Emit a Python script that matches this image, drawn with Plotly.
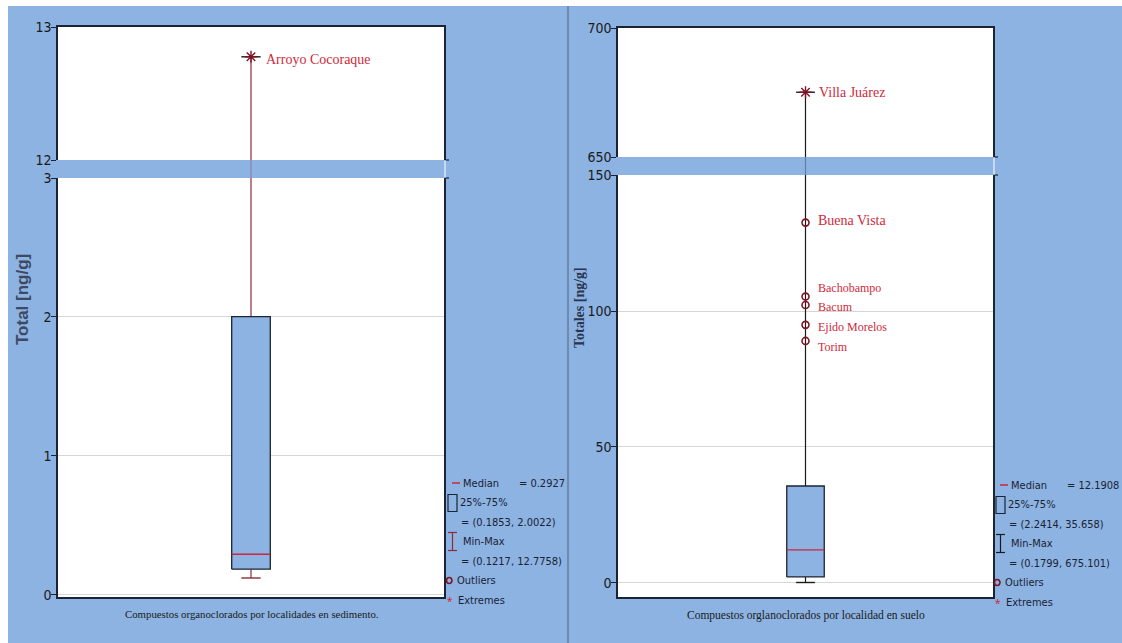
import plotly.graph_objects as go

# ---- summary statistics: organochlorine totals in sediment ------------
SED_MEDIAN = 0.2927
SED_QUARTILES = [0.1853, 2.0022]
SED_MINMAX = [0.1217, 12.7758]
SED_EXTREME_SITES = ["Arroyo Cocoraque"]
SED_EXTREME_VALUES = [12.7758]

# ---- summary statistics: organochlorine totals in soil ----------------
SOIL_MEDIAN = 12.1908
SOIL_QUARTILES = [2.2414, 35.658]
SOIL_MINMAX = [0.1799, 675.101]
SOIL_OUTLIER_SITES = ["Buena Vista", "Bachobampo", "Bacum", "Ejido Morelos", "Torim"]
SOIL_OUTLIER_VALUES = [132.5, 105.3, 102.2, 94.9, 89.0]
SOIL_EXTREME_SITES = ["Villa Juárez"]
SOIL_EXTREME_VALUES = [675.101]

# ---- tick marks for the broken y axes ---------------------------------
SED_TICKS_LOW = [0, 1, 2, 3]
SED_TICKS_HIGH = [12, 13]
SOIL_TICKS_LOW = [0, 50, 100, 150]
SOIL_TICKS_HIGH = [650, 700]

# ---- page geometry / style --------------------------------------------
W, H = 1122, 643
BG = "#8DB3E2"
BOX_FILL = "#8DB3E2"
FRAME = "#1c2433"
GRID = "#d6d6d6"
MEDIAN_RED = "#c8283c"
WHISKER_RED = "#8e2a36"
MARK_RED = "#7d1424"
LABEL_RED = "#cf2a3a"
DARK = "#1a1a1a"
SERIF = "Liberation Serif, Times New Roman, serif"
NARROW = "Liberation Sans Narrow, Arial Narrow, DejaVu Sans Condensed, Liberation Sans, sans-serif"
SANS = "Liberation Sans, Arial, sans-serif"

BOX_HALF = 0.1     # half box width in x-axis units (x range is -1..1)
CAP_HALF = 0.05    # half whisker-cap width


def fx(px):
    return px / W


def fy(py):
    return 1 - py / H


fig = go.Figure()


def add_boxplot(xa, ya_low, ya_high, quart, med, minmax, whisker_col):
    q1, q3 = quart
    lo, hi = minmax
    for ya in (ya_low, ya_high):
        # upper whisker runs through both halves of the broken axis
        fig.add_trace(go.Scatter(x=[0, 0], y=[q3, hi], mode="lines",
                                 line=dict(color=whisker_col, width=1.2),
                                 xaxis=xa[ya], yaxis=ya, hoverinfo="skip"))
    # lower whisker + cap
    fig.add_trace(go.Scatter(x=[0, 0], y=[lo, q1], mode="lines",
                             line=dict(color=whisker_col, width=1.2),
                             xaxis=xa[ya_low], yaxis=ya_low, hoverinfo="skip"))
    fig.add_trace(go.Scatter(x=[-CAP_HALF, CAP_HALF], y=[lo, lo], mode="lines",
                             line=dict(color=whisker_col, width=1.4),
                             xaxis=xa[ya_low], yaxis=ya_low, hoverinfo="skip"))
    # box 25%-75%
    fig.add_trace(go.Scatter(x=[-BOX_HALF, BOX_HALF, BOX_HALF, -BOX_HALF, -BOX_HALF],
                             y=[q1, q1, q3, q3, q1], mode="lines", fill="toself",
                             fillcolor=BOX_FILL, line=dict(color=FRAME, width=1.3),
                             xaxis=xa[ya_low], yaxis=ya_low, hoverinfo="skip"))
    # median
    fig.add_trace(go.Scatter(x=[-BOX_HALF, BOX_HALF], y=[med, med], mode="lines",
                             line=dict(color=MEDIAN_RED, width=1.3),
                             xaxis=xa[ya_low], yaxis=ya_low, hoverinfo="skip"))
    # top cap (max)
    fig.add_trace(go.Scatter(x=[-CAP_HALF, CAP_HALF], y=[hi, hi], mode="lines",
                             line=dict(color=DARK, width=1.4),
                             xaxis=xa[ya_high], yaxis=ya_high, hoverinfo="skip"))


xmap = {"y": "x", "y3": "x3", "y2": "x2", "y4": "x4"}

add_boxplot(xmap, "y", "y3", SED_QUARTILES, SED_MEDIAN, SED_MINMAX, WHISKER_RED)
add_boxplot(xmap, "y2", "y4", SOIL_QUARTILES, SOIL_MEDIAN, SOIL_MINMAX, DARK)

# extremes (asterisks)
fig.add_trace(go.Scatter(x=[0] * len(SED_EXTREME_VALUES), y=SED_EXTREME_VALUES,
                         mode="markers", xaxis="x3", yaxis="y3", hoverinfo="skip",
                         marker=dict(symbol="asterisk-open", size=10, color=MARK_RED,
                                     line=dict(width=1.4, color=MARK_RED))))
fig.add_trace(go.Scatter(x=[0] * len(SOIL_EXTREME_VALUES), y=SOIL_EXTREME_VALUES,
                         mode="markers", xaxis="x4", yaxis="y4", hoverinfo="skip",
                         marker=dict(symbol="asterisk-open", size=10, color=MARK_RED,
                                     line=dict(width=1.4, color=MARK_RED))))
# outliers (open circles)
fig.add_trace(go.Scatter(x=[0] * len(SOIL_OUTLIER_VALUES), y=SOIL_OUTLIER_VALUES,
                         mode="markers", xaxis="x2", yaxis="y2", hoverinfo="skip",
                         marker=dict(symbol="circle-open", size=7, color=MARK_RED,
                                     line=dict(width=1.6, color=MARK_RED))))

annotations = []

# site names next to the flagged points
for name, val in zip(SED_EXTREME_SITES, SED_EXTREME_VALUES):
    annotations.append(dict(x=0, y=val, xref="x3", yref="y3", text=name,
                            showarrow=False, xanchor="left", yanchor="middle",
                            xshift=13, yshift=-3,
                            font=dict(family=SERIF, size=14, color=LABEL_RED)))
for name, val in zip(SOIL_EXTREME_SITES, SOIL_EXTREME_VALUES):
    annotations.append(dict(x=0, y=val, xref="x4", yref="y4", text=name,
                            showarrow=False, xanchor="left", yanchor="middle",
                            xshift=11, yshift=0,
                            font=dict(family=SERIF, size=14, color=LABEL_RED)))
OUTLIER_LABEL_SHIFT = [2, 9, -2, -2, -6]
OUTLIER_LABEL_SIZE = [14, 12, 12, 12, 12]
for name, val, dy, fs in zip(SOIL_OUTLIER_SITES, SOIL_OUTLIER_VALUES,
                             OUTLIER_LABEL_SHIFT, OUTLIER_LABEL_SIZE):
    annotations.append(dict(x=0, y=val, xref="x2", yref="y2", text=name,
                            showarrow=False, xanchor="left", yanchor="middle",
                            xshift=10, yshift=dy,
                            font=dict(family=SERIF, size=fs, color=LABEL_RED)))

# axis titles and captions
annotations += [
    dict(x=fx(22), y=fy(300), xref="paper", yref="paper", text="<b>Total [ng/g]</b>",
         textangle=-90, showarrow=False, xanchor="center", yanchor="middle",
         font=dict(family=SANS, size=17, color="#3e4a64")),
    dict(x=fx(579), y=fy(308), xref="paper", yref="paper", text="<b>Totales [ng/g]</b>",
         textangle=-90, showarrow=False, xanchor="center", yanchor="middle",
         font=dict(family=SERIF, size=14, color="#2b3550")),
    dict(x=fx(251), y=fy(614), xref="paper", yref="paper",
         text="Compuestos organoclorados por localidades en sedimento.",
         showarrow=False, xanchor="center", yanchor="middle",
         font=dict(family=SERIF, size=10.8, color=DARK)),
    dict(x=fx(806), y=fy(615), xref="paper", yref="paper",
         text="Compuestos orglanoclorados por localidad en suelo",
         showarrow=False, xanchor="center", yanchor="middle",
         font=dict(family=SERIF, size=11.5, color=DARK)),
]

shapes = [
    # white strips at page edges
    dict(type="rect", xref="paper", yref="paper", x0=0, x1=1, y0=fy(6), y1=1,
         fillcolor="white", line=dict(width=0), layer="below"),
    dict(type="rect", xref="paper", yref="paper", x0=0, x1=fx(8), y0=0, y1=1,
         fillcolor="white", line=dict(width=0), layer="below"),
    # divider between the two charts
    dict(type="line", xref="paper", yref="paper", x0=fx(568), x1=fx(568),
         y0=0, y1=fy(6), line=dict(color="#5b6f8c", width=1.2)),
    # whisker seen through the axis break
    dict(type="line", xref="x", yref="paper", x0=0, x1=0, y0=fy(178), y1=fy(160),
         line=dict(color="rgba(142,42,54,0.35)", width=1.2)),
    dict(type="line", xref="x2", yref="paper", x0=0, x1=0, y0=fy(175), y1=fy(157),
         line=dict(color="rgba(0,0,0,0.3)", width=1.2)),
]
# break marks on the right frames
for xr, ys in ((444, (160, 178)), (993, (157, 175))):
    for yy in ys:
        shapes.append(dict(type="line", xref="paper", yref="paper",
                           x0=fx(xr), x1=fx(xr + 5), y0=fy(yy), y1=fy(yy),
                           line=dict(color=FRAME, width=1.2)))
    shapes.append(dict(type="line", xref="paper", yref="paper",
                       x0=fx(xr + 1), x1=fx(xr + 1), y0=fy(ys[1]), y1=fy(ys[0]),
                       line=dict(color="white", width=1)))


def legend(x0, y0, med, quart, minmax, whisker_col):
    step = 19.5
    rows = [y0 + i * step for i in range(7)]
    txt = dict(family=NARROW, size=11, color="#1b2233")

    def label(x, y, s):
        annotations.append(dict(x=fx(x), y=fy(y), xref="paper", yref="paper",
                                text=s, showarrow=False, xanchor="left",
                                yanchor="middle", font=txt, borderpad=0))

    # median
    shapes.append(dict(type="line", xref="paper", yref="paper",
                       x0=fx(x0 + 6), x1=fx(x0 + 14), y0=fy(rows[0]), y1=fy(rows[0]),
                       line=dict(color=MEDIAN_RED, width=1.5)))
    label(x0 + 16, rows[0], "Median")
    label(x0 + 72, rows[0], f"= {med}")
    # box
    shapes.append(dict(type="rect", xref="paper", yref="paper",
                       x0=fx(x0 + 2), x1=fx(x0 + 11),
                       y0=fy(rows[1] + 9), y1=fy(rows[1] - 8),
                       line=dict(color=FRAME, width=1.2)))
    label(x0 + 13, rows[1], "25%-75%")
    label(x0 + 14, rows[2], f"= ({quart[0]}, {quart[1]})")
    # min-max
    yc = rows[3]
    for a, b, c, d in ((x0 + 2, x0 + 11, yc - 9, yc - 9),
                       (x0 + 2, x0 + 11, yc + 9, yc + 9),
                       (x0 + 6.5, x0 + 6.5, yc - 9, yc + 9)):
        shapes.append(dict(type="line", xref="paper", yref="paper",
                           x0=fx(a), x1=fx(b), y0=fy(c), y1=fy(d),
                           line=dict(color=whisker_col, width=1.2)))
    label(x0 + 16, rows[3], "Min-Max")
    label(x0 + 14, rows[4], f"= ({minmax[0]}, {minmax[1]})")
    # outliers / extremes
    shapes.append(dict(type="circle", xref="paper", yref="paper",
                       x0=fx(x0 + 0.5), x1=fx(x0 + 6), y0=fy(rows[5] + 3),
                       y1=fy(rows[5] - 3), line=dict(color=MARK_RED, width=1.6)))
    label(x0 + 10, rows[5], "Outliers")
    annotations.append(dict(x=fx(x0 + 3.5), y=fy(rows[6] + 2), xref="paper",
                            yref="paper", text="*", showarrow=False,
                            xanchor="center", yanchor="middle", borderpad=0,
                            font=dict(family=SANS, size=14, color=LABEL_RED)))
    label(x0 + 11, rows[6], "Extremes")


legend(446, 483, SED_MEDIAN, SED_QUARTILES, SED_MINMAX, WHISKER_RED)
legend(994, 485, SOIL_MEDIAN, SOIL_QUARTILES, SOIL_MINMAX, DARK)

tickfont = dict(family=NARROW, size=14, color=DARK)
xcommon = dict(range=[-1, 1], showticklabels=False, ticks="", showgrid=False,
               zeroline=False, showline=True, linecolor=FRAME, linewidth=1.5,
               fixedrange=True, automargin=False)
ycommon = dict(ticks="outside", ticklen=5, tickcolor=FRAME, tickwidth=1.2,
               tickfont=tickfont, zeroline=False, showline=True, mirror=True,
               linecolor=FRAME, linewidth=1.5, fixedrange=True, automargin=False,
               ticklabelstandoff=-3)

fig.update_layout(
    width=W, height=H,
    margin=dict(l=0, r=0, t=0, b=0, autoexpand=False),
    paper_bgcolor=BG, plot_bgcolor="white",
    showlegend=False,
    xaxis=dict(domain=[fx(58), fx(444)], anchor="y", **xcommon),
    xaxis3=dict(domain=[fx(58), fx(444)], anchor="y3", side="top", **xcommon),
    xaxis2=dict(domain=[fx(618), fx(993)], anchor="y2", **xcommon),
    xaxis4=dict(domain=[fx(618), fx(993)], anchor="y4", side="top", **xcommon),
    yaxis=dict(domain=[fy(597), fy(178)], anchor="x", range=[-0.015, 3],
               tickvals=SED_TICKS_LOW, showgrid=True, gridcolor=GRID, **ycommon),
    yaxis3=dict(domain=[fy(160), fy(27)], anchor="x3", range=[12, 13],
                tickvals=SED_TICKS_HIGH, showgrid=False, **ycommon),
    yaxis2=dict(domain=[fy(597), fy(175)], anchor="x2", range=[-5.15, 150],
                tickvals=SOIL_TICKS_LOW, showgrid=True, gridcolor=GRID, **ycommon),
    yaxis4=dict(domain=[fy(157), fy(28)], anchor="x4", range=[650, 700],
                tickvals=SOIL_TICKS_HIGH, showgrid=False, **ycommon),
    annotations=annotations,
    shapes=shapes,
)

fig.write_html("out.html")
